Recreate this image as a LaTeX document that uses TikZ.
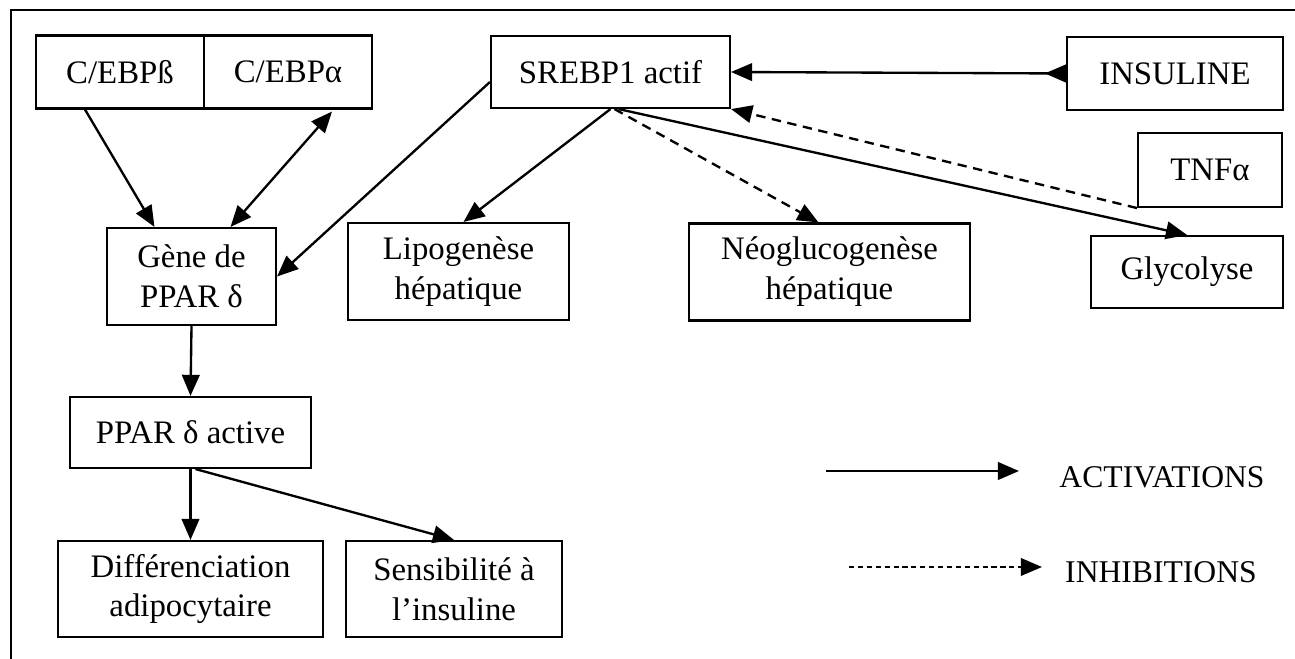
\documentclass[tikz,border=0pt]{standalone}
\usepackage{fontspec}
\setmainfont{Liberation Serif}
\usetikzlibrary{arrows.meta}
\usetikzlibrary{calc}
\usetikzlibrary{math}
\usetikzlibrary{positioning}

\begin{document}
\begin{tikzpicture}[x=0.015cm,y=-0.015cm,
    boite/.style={draw=black,rectangle,line width=0.9pt,inner sep=0pt,align=center,font=\fontsize{14}{17}\selectfont},
    legende/.style={inner sep=0pt,font=\fontsize{13.5}{16.5}\selectfont},
    act/.style={line width=1pt,-{Triangle[length=9pt,width=7.5pt]}},
    inh/.style={act,dash pattern=on 4pt off 2.8pt}]
    \tikzmath{  \ya = 72 ;
                \yt = 170 ;
                \yb = 272 ;
                \yc = 432.5 ;
                \yd = 589 ;
                }
    \useasboundingbox (0,0) rectangle (1295,659);
    \draw[line width=1.2pt] (11,659) -- (11,10) -- (1295,10);

    \node[boite,minimum width=2.52cm,minimum height=1.095cm] (cebpb) at (120,\ya) {C/EBPß};
    \node[boite,minimum width=2.52cm,minimum height=1.095cm] (cebpa) at (288,\ya) {C/EBPα};
    \node[boite,minimum width=3.585cm,minimum height=1.08cm] (srebp) at (610.5,\ya) {SREBP1 actif};
    \node[boite,minimum width=3.24cm,minimum height=1.095cm] (insuline) at (1175,73.5) {INSULINE};
    \node[boite,minimum width=2.16cm,minimum height=1.11cm] (tnf) at (1210,\yt) {TNFα};
    \node[boite,minimum width=2.535cm,minimum height=1.455cm] (gene) at (191.5,276.5) {Gène de\\PPAR δ};
    \node[boite,minimum width=3.315cm,minimum height=1.455cm] (lipo) at (458.5,271.5) {Lipogenèse\\hépatique};
    \node[boite,minimum width=4.215cm,minimum height=1.455cm] (neo) at (829.5,\yb) {Néoglucogenèse\\hépatique};
    \node[boite,minimum width=2.88cm,minimum height=1.08cm] (glyco) at (1187,\yb) {Glycolyse};
    \node[boite,minimum width=3.615cm,minimum height=1.065cm] (ppar) at (190.5,\yc) {PPAR δ active};
    \node[boite,minimum width=3.975cm,minimum height=1.44cm] (diff) at (190.5,\yd) {Différenciation\\adipocytaire};
    \node[boite,minimum width=3.24cm,minimum height=1.44cm] (sens) at (454,\yd) {Sensibilité à\\l’insuline};

    \draw[act] ($(cebpb.south)+(-35,0)$) -- ($(gene.north)+(-37,0)$);
    \draw[act,{Triangle[length=9pt,width=7.5pt]}-{Triangle[length=9pt,width=7.5pt]}] ($(gene.north)+(39,0)$) -- ($(cebpa.south)+(44,2)$);
    \draw[act] ($(srebp.west)+(0,10)$) -- (gene.east);
    \draw[act] (srebp.south) -- ($(lipo.north)+(5,0)$);
    \draw[inh] ($(srebp.south)+(4,0)$) -- ($(neo.north)+(-11,0)$);
    \draw[act] ($(srebp.south)+(8,0)$) -- (glyco.north);
    \draw[act,{Triangle[reversed,length=9pt,width=7.5pt]}-{Triangle[length=9pt,width=7.5pt]}] (insuline.west) -- (srebp.east);
    \draw[inh] (tnf.south west) -- (srebp.south east);
    \draw[act] (gene.south) -- (ppar.north);
    \draw[act] (ppar.south) -- (diff.north);
    \draw[act] ($(ppar.south)+(5,0)$) -- (sens.north);

    \coordinate (acta) at (826,471);
    \coordinate (actb) at (1019,471);
    \draw[act] (acta) -- (actb);
    \node[legende] (activ) at (1162,477) {ACTIVATIONS};
    \coordinate (inha) at (849,567);
    \coordinate (inhb) at (1042,567);
    \draw[inh,line width=0.8pt,dash pattern=on 2.2pt off 1.6pt] (inha) -- (inhb);
    \node[legende] (inhib) at (1161,572) {INHIBITIONS};
\end{tikzpicture}
\end{document}
